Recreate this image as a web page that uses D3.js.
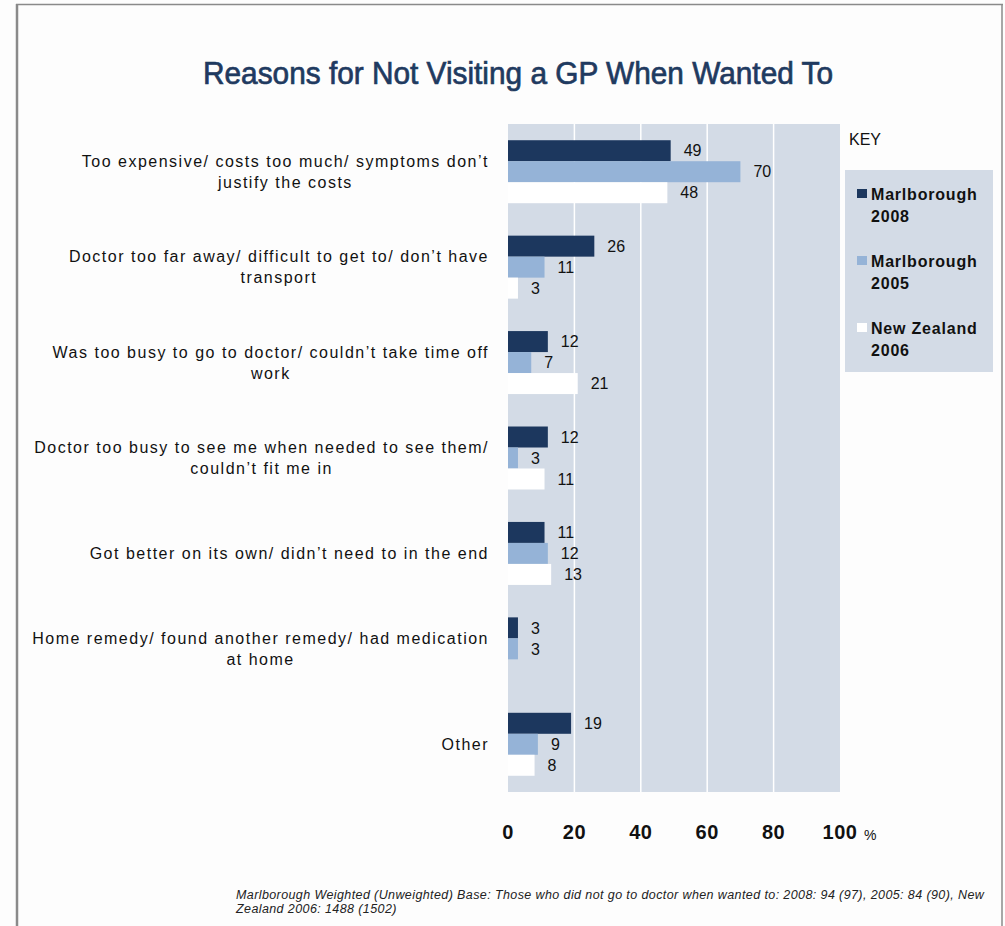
<!DOCTYPE html>
<html>
<head>
<meta charset="utf-8">
<script src="https://cdn.jsdelivr.net/npm/d3@7/dist/d3.min.js"></script>
<style>
  html, body { margin: 0; padding: 0; background: #fdfdfd; }
  svg { display: block; font-family: "Liberation Sans", Arial, sans-serif; }
</style>
</head>
<body>
<svg id="chart" width="1005" height="926"></svg>
<script>
// Survey reasons (each may wrap over two lines)
const reasons = [
  ["Too expensive/  costs too much/ symptoms don\u2019t", "justify the costs"],
  ["Doctor too far away/ difficult to get to/ don\u2019t have", "transport"],
  ["Was too busy to go to doctor/ couldn\u2019t take time off", "work"],
  ["Doctor too busy to see me when needed to see them/", "couldn\u2019t fit me in"],
  ["Got better on its own/ didn\u2019t need to in the end"],
  ["Home remedy/ found another remedy/ had medication", "at home"],
  ["Other"]
];

// Percentages per survey (null = not reported)
const marlborough2008 = [49, 26, 12, 12, 11, 3, 19];
const marlborough2005 = [70, 11, 7, 3, 12, 3, 9];
const newZealand2006  = [48, 3, 21, 11, 13, null, 8];

const seriesNames = [["Marlborough", "2008"], ["Marlborough", "2005"], ["New Zealand", "2006"]];
const seriesColors = ["#1c375e", "#95b3d7", "#ffffff"];
const tickValues = [0, 20, 40, 60, 80, 100];

const series = [marlborough2008, marlborough2005, newZealand2006];

const svg = d3.select("#chart");

// Page frame
svg.append("line").attr("x1", 16).attr("x2", 1003).attr("y1", 4.5).attr("y2", 4.5)
  .attr("stroke", "#8a8a8a").attr("stroke-width", 1.5);
svg.append("line").attr("x1", 17).attr("x2", 17).attr("y1", 4).attr("y2", 926)
  .attr("stroke", "#8a8a8a").attr("stroke-width", 2.5);
svg.append("line").attr("x1", 1002).attr("x2", 1002).attr("y1", 4).attr("y2", 926)
  .attr("stroke", "#8a8a8a").attr("stroke-width", 1.5);

// Title (condensed, medium weight)
svg.append("text")
  .attr("x", 203).attr("y", 84)
  .attr("font-size", 31)
  .attr("textLength", 630)
  .attr("lengthAdjust", "spacingAndGlyphs")
  .attr("fill", "#1f3a60")
  .attr("stroke", "#1f3a60")
  .attr("stroke-width", 0.7)
  .text("Reasons for Not Visiting a GP When Wanted To");

// Scales
const panel = { left: 508, right: 840, top: 124, bottom: 792 };
const x = d3.scaleLinear().domain([0, 100]).range([panel.left, panel.right]);
const yGroup = d3.scaleBand()
  .domain(d3.range(reasons.length))
  .range([panel.top, panel.bottom])
  .paddingInner(0.34).paddingOuter(0.17);
const ySub = d3.scaleBand().domain(d3.range(series.length)).range([0, yGroup.bandwidth()]);

// Plot background and vertical gridlines
svg.append("rect")
  .attr("x", panel.left).attr("y", panel.top)
  .attr("width", panel.right - panel.left).attr("height", panel.bottom - panel.top)
  .attr("fill", "#d3dbe6");

svg.append("g")
  .selectAll("line")
  .data(tickValues.filter(t => t > 0 && t < 100))
  .join("line")
  .attr("x1", d => x(d)).attr("x2", d => x(d))
  .attr("y1", panel.top).attr("y2", panel.bottom)
  .attr("stroke", "#ffffff").attr("stroke-width", 1.5);

// Bars
const barData = [];
series.forEach((vals, s) => vals.forEach((v, i) => {
  if (v !== null) barData.push({ s, i, v });
}));

svg.append("g")
  .selectAll("rect")
  .data(barData)
  .join("rect")
  .attr("x", x(0))
  .attr("y", d => yGroup(d.i) + ySub(d.s))
  .attr("width", d => x(d.v) - x(0))
  .attr("height", ySub.bandwidth())
  .attr("fill", d => seriesColors[d.s]);

// Value labels
svg.append("g")
  .selectAll("text")
  .data(barData)
  .join("text")
  .attr("x", d => x(d.v) + 13)
  .attr("y", d => yGroup(d.i) + ySub(d.s) + ySub.bandwidth() / 2)
  .attr("dy", "0.36em")
  .attr("font-size", 16)
  .attr("fill", "#111")
  .text(d => d.v);

// Category labels: lines centred on each other, block right-aligned
const catG = svg.append("g");
reasons.forEach((lines, i) => {
  const cy = yGroup(i) + yGroup.bandwidth() / 2;
  const lh = 21;
  const t = catG.append("text")
    .attr("font-size", 16)
    .attr("letter-spacing", "1.5px")
    .attr("fill", "#111")
    .attr("text-anchor", "middle");
  const spans = lines.map((ln, k) => t.append("tspan")
    .attr("y", cy + (k - (lines.length - 1) / 2) * lh)
    .attr("dy", "0.36em")
    .text(ln));
  const maxW = d3.max(spans, sp => sp.node().getComputedTextLength());
  spans.forEach(sp => sp.attr("x", 489 - maxW / 2));
});

// X axis tick labels
const ticks = svg.append("g");
tickValues.forEach(t => {
  ticks.append("text")
    .attr("x", x(t)).attr("y", 839)
    .attr("text-anchor", "middle")
    .attr("font-size", 20)
    .attr("font-weight", "bold")
    .attr("letter-spacing", "0.5px")
    .attr("fill", "#111")
    .text(t);
});
ticks.append("text")
  .attr("x", x(100) + 24).attr("y", 840)
  .attr("font-size", 14)
  .attr("fill", "#111")
  .text("%");

// Legend
svg.append("text")
  .attr("x", 849).attr("y", 145)
  .attr("font-size", 16)
  .attr("fill", "#111")
  .text("KEY");

svg.append("rect")
  .attr("x", 845).attr("y", 170).attr("width", 148).attr("height", 202)
  .attr("fill", "#d3dbe6");

const leg = svg.append("g")
  .selectAll("g")
  .data(seriesNames)
  .join("g")
  .attr("transform", (d, i) => `translate(0, ${194 + i * 67})`);

leg.append("rect")
  .attr("x", 857).attr("y", -5).attr("width", 10).attr("height", 9)
  .attr("fill", (d, i) => seriesColors[i]);

leg.append("text")
  .attr("font-size", 16)
  .attr("font-weight", "bold")
  .attr("letter-spacing", "0.8px")
  .attr("fill", "#111")
  .selectAll("tspan")
  .data(d => d)
  .join("tspan")
  .attr("x", 871)
  .attr("y", (d, k) => k * 22)
  .attr("dy", "0.36em")
  .text(d => d);

// Base note
const note = svg.append("text")
  .attr("font-size", 12.5)
  .attr("font-style", "italic")
  .attr("letter-spacing", "0.4px")
  .attr("fill", "#222");
note.append("tspan").attr("x", 236).attr("y", 899)
  .text("Marlborough Weighted (Unweighted) Base: Those who did not go to doctor when wanted to:  2008: 94 (97), 2005: 84 (90), New");
note.append("tspan").attr("x", 236).attr("y", 913)
  .text("Zealand 2006: 1488 (1502)");
</script>
</body>
</html>
